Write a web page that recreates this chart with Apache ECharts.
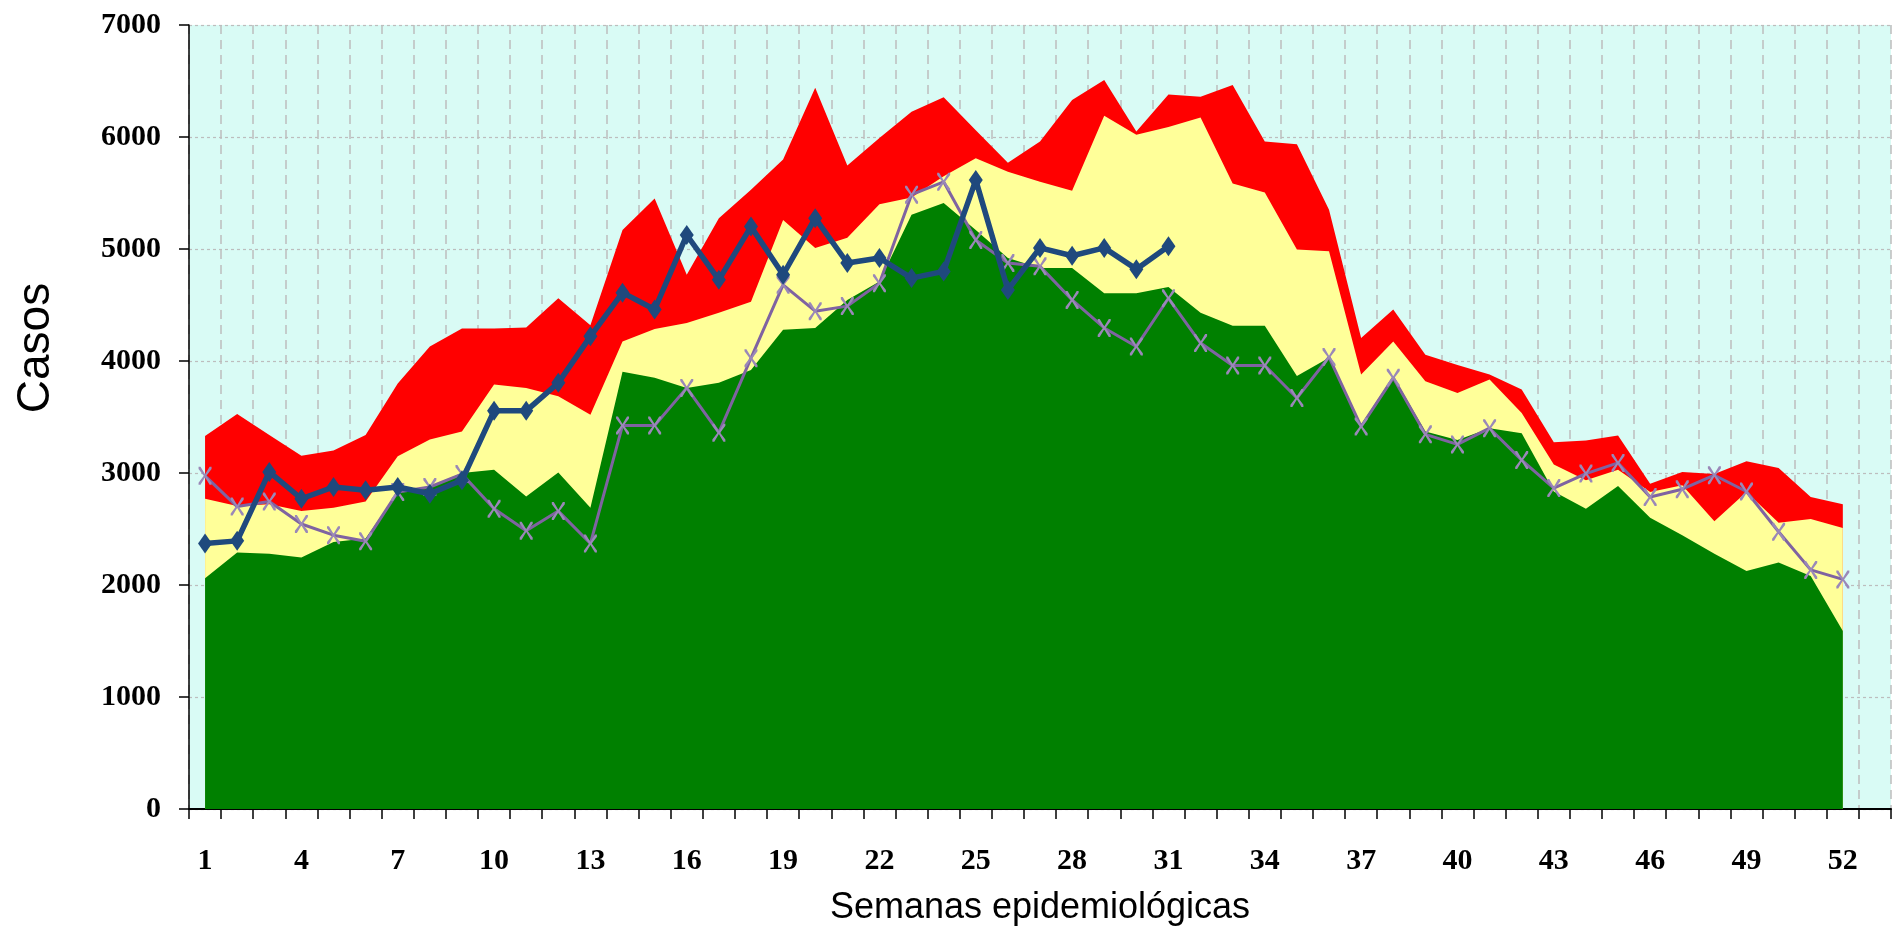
<!DOCTYPE html>
<html>
<head>
<meta charset="utf-8">
<script src="https://cdn.jsdelivr.net/npm/echarts@6/dist/echarts.min.js"></script>
<style>
html,body{margin:0;padding:0;background:#fff;}
#chart{width:1892px;height:937px;}
</style>
</head>
<body>
<div id="chart"></div>
<script>
const weeks = ['1','2','3','4','5','6','7','8','9','10','11','12','13','14','15','16','17','18','19','20','21','22','23','24','25','26','27','28','29','30','31','32','33','34','35','36','37','38','39','40','41','42','43','44','45','46','47','48','49','50','51','52','53'];

// Epidemic channel limits
const redTop = [3330,3527,3340,3155,3200,3340,3800,4130,4290,4290,4300,4560,4320,5170,5450,4770,5275,5530,5800,6440,5745,5990,6225,6355,6060,5770,5960,6330,6510,6050,6380,6360,6465,5960,5935,5350,4205,4460,4055,3965,3880,3745,3275,3290,3335,2905,3010,2990,3105,3045,2785,2720];
const yellowTop = [2770,2705,2720,2660,2690,2745,3150,3300,3370,3790,3760,3685,3520,4175,4285,4340,4430,4530,5260,5010,5100,5400,5460,5650,5810,5690,5600,5520,6190,6020,6090,6175,5585,5505,4995,4980,3880,4175,3820,3715,3835,3535,3075,2935,3030,2830,2890,2570,2830,2555,2590,2510];
const greenTop = [2060,2290,2280,2245,2385,2415,2830,2880,3000,3030,2790,3005,2690,3905,3850,3760,3805,3920,4280,4295,4545,4710,5305,5410,5170,4920,4830,4830,4605,4605,4660,4430,4315,4315,3865,4030,3430,3865,3370,3295,3400,3355,2835,2680,2885,2600,2445,2280,2125,2200,2080,1590];

// Current year (weeks 1-31) and previous year
const currentYear = [2370,2394,3010,2770,2875,2845,2875,2815,2935,3555,3555,3805,4220,4610,4460,5125,4725,5200,4770,5275,4875,4920,4740,4800,5615,4635,5010,4940,5010,4820,5025];
const previousYear = [2975,2700,2745,2545,2445,2390,2830,2875,2990,2680,2485,2660,2370,3425,3425,3760,3360,4025,4680,4445,4490,4695,5485,5600,5080,4875,4845,4545,4295,4130,4560,4160,3960,3960,3670,4035,3415,3850,3345,3255,3400,3115,2865,2995,3090,2785,2855,2980,2835,2475,2135,2050];

const yTicks = {min:0, max:7000, interval:1000};

const chart = echarts.init(document.getElementById('chart'));
const areaSeries = (name, data, color) => ({
  name, type:'line', data, showSymbol:false, symbol:'none',
  lineStyle:{width:0, color}, itemStyle:{color},
  areaStyle:{color, opacity:1}, silent:true, animation:false
});
const xSymbol = 'path://M0,0L1.5,0L5,4.2L8.5,0L10,0L10,1.2L6,5L10,8.8L10,10L8.5,10L5,5.8L1.5,10L0,10L0,8.8L4,5L0,1.2Z';

chart.setOption({
  animation:false,
  backgroundColor:'#ffffff',
  grid:{left:189, right:1, top:25, bottom:128, show:true, backgroundColor:'#D9FBF5', borderWidth:0},
  xAxis:{
    type:'category', data:weeks, boundaryGap:true,
    name:'Semanas epidemiológicas', nameLocation:'middle', nameGap:81,
    nameTextStyle:{fontFamily:'Liberation Sans', fontSize:36, color:'#000'},
    axisLine:{lineStyle:{color:'#000', width:2}},
    axisTick:{show:true, interval:0, length:10, lineStyle:{color:'#000', width:1.5}},
    axisLabel:{interval:2, margin:37, fontFamily:'Liberation Serif', fontSize:30, fontWeight:'bold', color:'#000'},
    splitLine:{show:true, interval:0, lineStyle:{color:'#BDBDBD', width:1.5, type:[9,6]}}
  },
  yAxis:{
    type:'value', min:yTicks.min, max:yTicks.max, interval:yTicks.interval,
    axisLine:{show:true, lineStyle:{color:'#000', width:1.5}},
    axisTick:{show:true, length:10, lineStyle:{color:'#000', width:1.5}},
    axisLabel:{margin:28, fontFamily:'Liberation Serif', fontSize:30, fontWeight:'bold', color:'#000',
      formatter:function(v){return String(v);}},
    splitLine:{show:true, lineStyle:{color:'#BDBDBD', width:1.2, type:[3,3]}}
  },
  graphic:[{
    type:'text', x:36, y:348, rotation:Math.PI/2,
    style:{text:'Casos', fontFamily:'Liberation Sans', fontSize:46, fill:'#000', align:'center', verticalAlign:'middle'}
  }],
  series:[
    areaSeries('Alarma', redTop, '#FF0000'),
    areaSeries('Seguridad', yellowTop, '#FFFF99'),
    areaSeries('Éxito', greenTop, '#008000'),
    {
      name:'Año anterior', type:'line', data:previousYear, z:5,
      symbol:xSymbol, symbolSize:[13,18], showSymbol:true,
      lineStyle:{color:'#7F63A1', width:3},
      itemStyle:{color:'#9A88B8'}
    },
    {
      name:'Año actual', type:'line', data:currentYear, z:6,
      symbol:'diamond', symbolSize:[14,20], showSymbol:true,
      lineStyle:{color:'#1F497D', width:5.5},
      itemStyle:{color:'#1F497D'}
    }
  ]
});
</script>
</body>
</html>
